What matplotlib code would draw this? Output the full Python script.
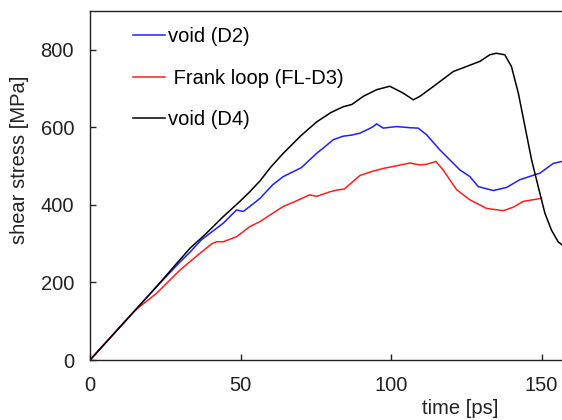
import matplotlib
matplotlib.use("Agg")
import matplotlib.pyplot as plt

plt.rcParams['font.family'] = ['Liberation Sans', 'DejaVu Sans']

# time [ps] and shear stress [MPa]
t_d2 = [0, 11.1, 22.1, 29.8, 33.2, 37, 39.9, 44.3, 48.7, 50.9, 53.1, 56.5, 60.7, 64.2, 70.2,
        75.3, 77.4, 80.8, 84, 86.9, 89.7, 92.9, 94.1, 95.2, 97.4, 101.9, 106.3, 109, 111.8,
        116.2, 122.9, 126.2, 129, 134, 138.4, 142.8, 149.5, 153.9, 156.8]
s_d2 = [0, 95, 189, 252, 278, 310, 327, 353, 387, 383, 396, 417, 452, 473, 496,
        533, 546, 568, 577, 580, 585, 597, 602, 609, 598, 602, 599, 598, 581,
        542, 490, 473, 447, 437, 445, 465, 482, 507, 512]

t_fl = [0, 11.1, 15, 22.1, 29.9, 36.5, 40.5, 42.1, 44.3, 48.7, 53.1, 56.5, 60, 64.2, 67.9,
        73, 75.3, 79.8, 81.9, 84.5, 89.7, 94, 97.4, 101.9, 106.3, 109.6, 112, 114.9,
        117.3, 121.8, 126.2, 131.7, 137.3, 140.6, 143.9, 150]
s_fl = [0, 95, 128, 172, 232, 275, 300, 305, 305, 318, 344, 357, 375, 396, 408,
        426, 422, 434, 438, 441, 476, 487, 494, 501, 508, 503, 505, 512,
        490, 439, 413, 391, 385, 394, 409, 417]

t_d4 = [0, 11.1, 22.1, 28, 33.2, 38.7, 44.3, 49.8, 53.1, 56.5, 60, 64.2, 70, 75.3, 80, 84.1, 87,
        90.8, 95.2, 99.6, 104.1, 107.4, 109.6, 114, 120.7, 125.1, 129.5, 132.8, 135,
        137.8, 140, 142.3, 144.5, 146.7, 148.9, 151.1, 153.3, 155.5, 156.8]
s_d4 = [0, 95, 189, 242, 288, 327, 370, 409, 434, 462, 497, 533, 578, 614, 638, 653, 659,
        680, 697, 706, 688, 671, 680, 705, 744, 757, 770, 787, 791,
        787, 757, 688, 602, 516, 447, 379, 335, 305, 297]

labels = ['void (D2)', ' Frank loop (FL-D3)', 'void (D4)']
colors = ['#1f1fff', '#ff1f1f', '#000000']

fs = 14.5
fig = plt.figure(figsize=(5.62, 4.2), dpi=100)
ax = fig.add_axes([90 / 562, 60 / 420, 472 / 562, 349 / 420])

ax.plot(t_d2, s_d2, color=colors[0], lw=1.1, label=labels[0])
ax.plot(t_fl, s_fl, color=colors[1], lw=1.1, label=labels[1])
ax.plot(t_d4, s_d4, color=colors[2], lw=1.1, label=labels[2])

ax.set_xlim(0, 156.8)
ax.set_ylim(0, 900)
ax.set_xticks([0, 50, 100, 150])
ax.set_yticks([0, 200, 400, 600, 800])
ax.tick_params(direction='in', length=4, width=1, labelsize=fs, pad=11.5, colors='#222222')
ax.spines['right'].set_visible(False)
for sp in ['left', 'bottom', 'top']:
    ax.spines[sp].set_linewidth(1.0)
    ax.spines[sp].set_color('#222222')

ax.set_xlabel('time [ps]', fontsize=fs, color='#222222')
ax.xaxis.set_label_coords((460.5 - 90) / 472, (360 - 409) / 349)
ax.xaxis.label.set_va('center')
ax.set_ylabel('shear stress [MPa]', fontsize=fs, color='#222222')
ax.yaxis.set_label_coords((20 - 90) / 472, (360 - 160) / 349)
ax.yaxis.label.set_va('center')

ax.legend(loc='upper left', bbox_to_anchor=((133 - 90) / 472, (360 - 27.5) / 349),
          frameon=False, fontsize=fs, handlelength=1.59, handletextpad=0.15,
          labelspacing=1.1, borderpad=0, borderaxespad=0)

fig.savefig('out.png', dpi=100)
